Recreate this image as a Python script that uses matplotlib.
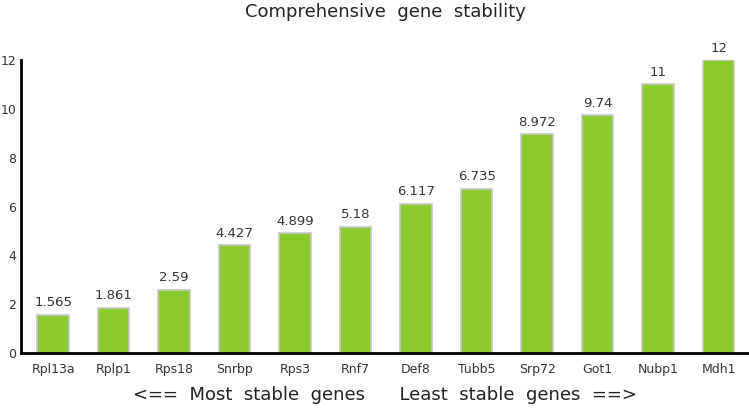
import matplotlib
matplotlib.use('Agg')
from matplotlib import pyplot as plt

# gene stability ranking
genes = ['Rpl13a', 'Rplp1', 'Rps18', 'Snrbp', 'Rps3', 'Rnf7', 'Def8', 'Tubb5', 'Srp72', 'Got1', 'Nubp1', 'Mdh1']
values = [1.565, 1.861, 2.59, 4.427, 4.899, 5.18, 6.117, 6.735, 8.972, 9.74, 11, 12]
labels = ['1.565', '1.861', '2.59', '4.427', '4.899', '5.18', '6.117', '6.735', '8.972', '9.74', '11', '12']
yticks = [0, 2, 4, 6, 8, 10, 12]

plt.rcParams['font.family'] = ['DejaVu Sans']

fig = plt.figure(figsize=(7.49, 4.08), dpi=100)
ax = fig.add_axes([21 / 749, 1 - 353 / 408, 1 - 21 / 749, 293 / 408])

x = list(range(len(genes)))
ax.bar(x, values, width=0.52, color='#8cc92d', edgecolor='#c8c8c8', linewidth=1.2)

for xi, v, lab in zip(x, values, labels):
    ax.text(xi, v + 0.22, lab, ha='center', va='bottom', fontsize=9.5, color='#333333')

ax.set_xlim(-0.53, 11.5)
ax.set_ylim(0, 12)
ax.set_yticks(yticks)
ax.set_xticks(x)
ax.set_xticklabels(genes)
ax.tick_params(axis='both', length=0, labelsize=9, colors='#333333')
ax.tick_params(axis='y', pad=3.5)
ax.tick_params(axis='x', pad=7)

for s in ['top', 'right']:
    ax.spines[s].set_visible(False)
ax.spines['left'].set_linewidth(2)
ax.spines['bottom'].set_linewidth(2)

fig.text(0.514, 1 - 12 / 408, 'Comprehensive  gene  stability', ha='center', va='center', fontsize=13,
         color='#222222')
fig.text(0.514, 1 - 395 / 408, '<==  Most  stable  genes      Least  stable  genes  ==>', ha='center', va='center',
         fontsize=13, color='#222222')

fig.savefig('out.png', dpi=100)
